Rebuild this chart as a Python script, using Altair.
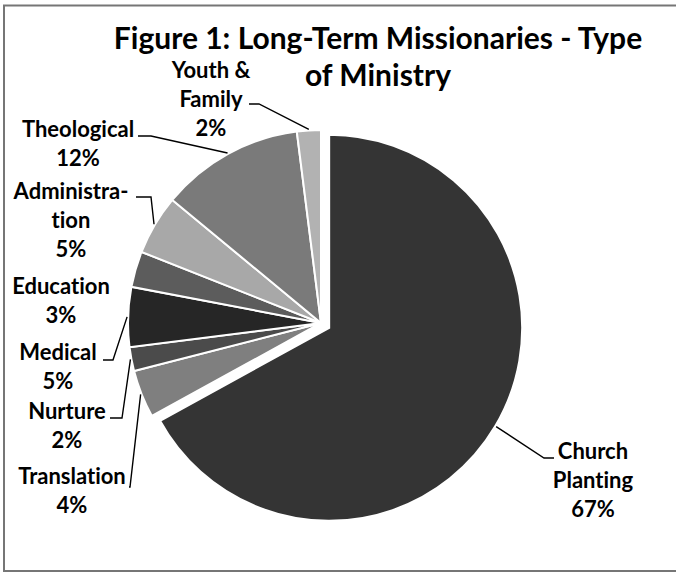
import math
import altair as alt
import pandas as pd

# ---------------- data ----------------
categories = ["Church Planting", "Translation", "Nurture", "Medical",
              "Education", "Administration", "Theological", "Youth & Family"]
values = [67, 4, 2, 5, 3, 5, 12, 2]
label_names = ["Church\nPlanting", "Translation", "Nurture", "Medical",
               "Education", "Administra-\ntion", "Theological", "Youth &\nFamily"]
title_lines = ["Figure 1: Long-Term Missionaries - Type", "of Ministry"]

# ---------------- styles / layout ----------------
colors = ["#343434", "#7f7f7f", "#4b4b4b", "#262626",
          "#5c5c5c", "#a8a8a8", "#7a7a7a", "#b2b2b2"]
FONT = "Lato"
CX, CY, R = 321, 323, 193
explode = {"Church Planting": 9.5}
# label first-line centres (pixels)
label_anchor = {
    "Church Planting": (593, 452),
    "Translation": (72, 477),
    "Nurture": (67, 412),
    "Medical": (58, 353),
    "Education": (61, 287),
    "Administration": (71, 192),
    "Theological": (78, 130),
    "Youth & Family": (211, 71),
}
# leader line knee and end points near the labels
leader = {
    "Church Planting": [(544, 458), (554, 458)],
    "Translation": [(130, 487), (129, 487)],
    "Nurture": [(122, 418), (110, 418)],
    "Medical": [(113, 360), (103, 360)],
    "Administration": [(151, 197), (136, 197)],
    "Theological": [(151, 136), (138, 136)],
    "Youth & Family": [(259, 104), (249, 104)],
}


def no_lig(s):
    # break Lato's "ti" ligature with a zero-width non-joiner
    return s.replace("ti", "t\u200ci")


df = pd.DataFrame({"category": categories, "value": values,
                   "order": list(range(len(categories)))})
df["explode"] = df["category"].map(explode).fillna(0.0)

total = sum(values)
theta_scale = alt.Scale(domain=[0, total], range=[0, 2 * math.pi])

arcs = (
    alt.Chart(df)
    .transform_window(cum="sum(value)", sort=[alt.SortField("order")], frame=[None, 0])
    .transform_calculate(
        start="datum.cum - datum.value",
        mid=f"(datum.cum - datum.value / 2) / {total} * 2 * PI",
        px=f"{CX} + datum.explode * sin(datum.mid)",
        py=f"{CY} - datum.explode * cos(datum.mid)",
    )
    .mark_arc(radius=R, stroke="white", strokeWidth=2)
    .encode(
        theta=alt.Theta("start:Q", scale=theta_scale),
        theta2="cum:Q",
        x=alt.X("px:Q", scale=None),
        y=alt.Y("py:Q", scale=None),
        color=alt.Color("category:N", scale=alt.Scale(domain=categories, range=colors), legend=None),
    )
)

# leader lines: from slice edge at mid angle to the label
rows = []
cum = 0
for cat, v in zip(categories, values):
    mid = (cum + v / 2) / total * 2 * math.pi
    cum += v
    if cat not in leader:
        continue
    ex = explode.get(cat, 0.0)
    sx = CX + ex * math.sin(mid) + (R + 1) * math.sin(mid)
    sy = CY - ex * math.cos(mid) - (R + 1) * math.cos(mid)
    pts = [(sx, sy)] + leader[cat]
    for i, (x, y) in enumerate(pts):
        rows.append({"category": cat, "seq": i, "x": x, "y": y})
lead_df = pd.DataFrame(rows)

lines = (
    alt.Chart(lead_df)
    .mark_line(color="black", strokeWidth=1.4)
    .encode(
        x=alt.X("x:Q", scale=None),
        y=alt.Y("y:Q", scale=None),
        detail="category:N",
        order="seq:Q",
    )
)

lab_df = pd.DataFrame({
    "category": categories,
    "text": [no_lig(f"{n}\n{v}%") for n, v in zip(label_names, values)],
    "lx": [label_anchor[c][0] for c in categories],
    "ly": [label_anchor[c][1] for c in categories],
})
labels = (
    alt.Chart(lab_df)
    .mark_text(font=FONT, fontWeight="bold", fontSize=22, lineBreak="\n",
               lineHeight=29, align="center", baseline="middle", color="black")
    .encode(x=alt.X("lx:Q", scale=None), y=alt.Y("ly:Q", scale=None), text="text:N")
)

title = (
    alt.Chart(pd.DataFrame({"t": ["\n".join(title_lines)]}))
    .mark_text(font=FONT, fontWeight="bold", fontSize=30, lineBreak="\n",
               lineHeight=37, align="center", baseline="alphabetic", color="black",
               x=378, y=49)
    .encode(text="t:N")
)

frame = (
    alt.Chart(pd.DataFrame({"a": [0]}))
    .mark_rect(fillOpacity=0, stroke="#767676", strokeWidth=2)
    .encode(x=alt.value(4), x2=alt.value(700), y=alt.value(5.5), y2=alt.value(571))
)

chart = (
    alt.layer(frame, arcs, lines, labels, title)
    .properties(width=676, height=572, padding=0,
                autosize=alt.AutoSizeParams(type="none"))
    .configure_view(strokeWidth=0)
)

chart.save("out.html", embed_options={"renderer": "svg", "actions": False})
